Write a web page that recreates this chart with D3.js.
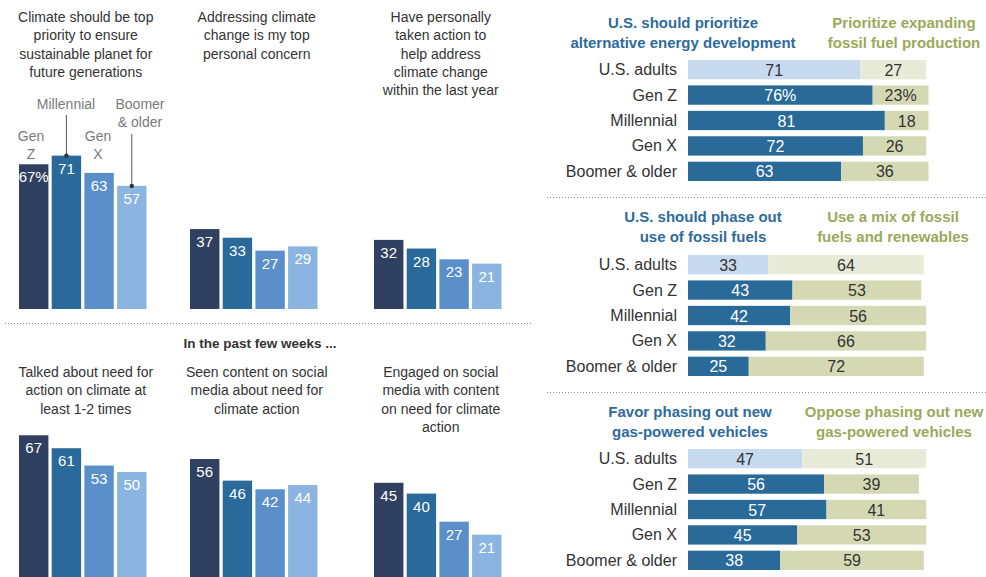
<!DOCTYPE html>
<html>
<head>
<meta charset="utf-8">
<script src="https://cdn.jsdelivr.net/npm/d3@7"></script>
<style>
  body { margin: 0; background: #fff; }
  svg { display: block; font-family: "Liberation Sans", Arial, sans-serif; }
</style>
</head>
<body>
<div id="chart"></div>
<script>
// generations for the column charts
const gens = ["Gen Z", "Millennial", "Gen X", "Boomer & older"];

// column chart titles + values (Gen Z, Millennial, Gen X, Boomer)
const topTitles = [
  ["Climate should be top", "priority to ensure", "sustainable planet for", "future generations"],
  ["Addressing climate", "change is my top", "personal concern"],
  ["Have personally", "taken action to", "help address", "climate change", "within the last year"]
];
const topPriority = [67, 71, 63, 57];
const topConcern = [37, 33, 27, 29];
const tookAction = [32, 28, 23, 21];

const bottomTitles = [
  ["Talked about need for", "action on climate at", "least 1-2 times"],
  ["Seen content on social", "media about need for", "climate action"],
  ["Engaged on social", "media with content", "on need for climate", "action"]
];
const talked = [67, 61, 53, 50];
const seenContent = [56, 46, 42, 44];
const engaged = [45, 40, 27, 21];

// stacked bar charts on the right
const rows = ["U.S. adults", "Gen Z", "Millennial", "Gen X", "Boomer & older"];
const altEnergy = [71, 76, 81, 72, 63];
const fossilExpand = [27, 23, 18, 26, 36];
const phaseOut = [33, 43, 42, 32, 25];
const fossilMix = [64, 53, 56, 66, 72];
const favorPhase = [47, 56, 57, 45, 38];
const opposePhase = [51, 39, 41, 53, 59];

const headersBlue = [
  ["U.S. should prioritize", "alternative energy development"],
  ["U.S. should phase out", "use of fossil fuels"],
  ["Favor phasing out new", "gas-powered vehicles"]
];
const headersGreen = [
  ["Prioritize expanding", "fossil fuel production"],
  ["Use a mix of fossil", "fuels and renewables"],
  ["Oppose phasing out new", "gas-powered vehicles"]
];

const width = 986, height = 577;
const genColors = ["#2f4060", "#2a6a9a", "#5b8fc9", "#8cb4e0"];
const textCol = "#333";

const svg = d3.select("#chart").append("svg")
  .attr("width", width)
  .attr("height", height);

// ---------- column charts ----------
const yLen = d3.scaleLinear().domain([0, 100]).range([0, 216]);

function columns(x0, baseY, vals, title, titleY, withPct) {
  const x = d3.scaleBand().domain(gens).range([x0, x0 + 127.5]).paddingInner(0.1);
  const g = svg.append("g");
  const cx = x0 + 127.5 / 2 + 3;

  g.append("text")
    .attr("text-anchor", "middle")
    .attr("font-size", 14)
    .attr("fill", textCol)
    .selectAll("tspan")
    .data(title)
    .join("tspan")
    .attr("x", cx)
    .attr("y", (d, i) => titleY + i * 18.3)
    .text(d => d);

  g.selectAll("rect")
    .data(vals)
    .join("rect")
    .attr("x", (d, i) => x(gens[i]))
    .attr("y", d => baseY - yLen(d))
    .attr("width", x.bandwidth())
    .attr("height", d => yLen(d))
    .attr("fill", (d, i) => genColors[i]);

  g.selectAll("text.val")
    .data(vals)
    .join("text")
    .attr("class", "val")
    .attr("x", (d, i) => x(gens[i]) + x.bandwidth() / 2)
    .attr("y", d => baseY - yLen(d) + 18)
    .attr("text-anchor", "middle")
    .attr("font-size", 15)
    .attr("fill", "#fff")
    .text((d, i) => (withPct && i === 0) ? d + "%" : d);

  return x;
}

const xFirst = columns(19, 309, topPriority, topTitles[0], 22, true);
columns(190, 309, topConcern, topTitles[1], 22, false);
columns(374, 309, tookAction, topTitles[2], 22, false);

columns(19, 580, talked, bottomTitles[0], 377, false);
columns(190, 580, seenContent, bottomTitles[1], 377, false);
columns(374, 580, engaged, bottomTitles[2], 377, false);

// generation labels on the first chart
const genLab = svg.append("g")
  .attr("font-size", 14)
  .attr("fill", "#7a7a7a")
  .attr("text-anchor", "middle");
const labelSpec = [
  { lines: ["Gen", "Z"], x: 31, y: 141 },
  { lines: ["Millennial"], x: 66, y: 109, lineTop: 115 },
  { lines: ["Gen", "X"], x: 98, y: 141 },
  { lines: ["Boomer", "& older"], x: 140, y: 109, lineTop: 134 }
];
labelSpec.forEach((s, i) => {
  genLab.append("text")
    .selectAll("tspan")
    .data(s.lines)
    .join("tspan")
    .attr("x", s.x)
    .attr("y", (d, j) => s.y + j * 18.3)
    .text(d => d);
  if (s.lineTop) {
    const bx = xFirst(gens[i]) + xFirst.bandwidth() / 2;
    const by = 309 - yLen(topPriority[i]);
    svg.append("line")
      .attr("x1", bx).attr("x2", bx)
      .attr("y1", s.lineTop).attr("y2", by)
      .attr("stroke", "#555").attr("stroke-width", 1);
    svg.append("circle")
      .attr("cx", bx).attr("cy", by).attr("r", 2.2)
      .attr("fill", "#333");
  }
});

// separator + subheading
svg.append("line")
  .attr("x1", 5).attr("x2", 533)
  .attr("y1", 323.5).attr("y2", 323.5)
  .attr("stroke", "#888").attr("stroke-dasharray", "1,2");

svg.append("text")
  .attr("x", 260).attr("y", 348)
  .attr("text-anchor", "middle")
  .attr("font-size", 13.5)
  .attr("font-weight", "bold")
  .attr("fill", textCol)
  .text("In the past few weeks ...");

// ---------- stacked bars on right ----------
const xs = d3.scaleLinear().domain([0, 100]).range([688, 931]);

function stacked(top, blue, green, hBlue, hGreen, hY, blueCx, greenCx, pctRow) {
  const y = d3.scaleBand().domain(rows).range([top, top + 121]).paddingInner(0.24);
  const g = svg.append("g");

  g.append("text")
    .attr("text-anchor", "middle")
    .attr("font-size", 15)
    .attr("font-weight", "bold")
    .attr("fill", "#2e6b9c")
    .selectAll("tspan")
    .data(hBlue)
    .join("tspan")
    .attr("x", blueCx)
    .attr("y", (d, i) => hY + i * 20)
    .text(d => d);

  g.append("text")
    .attr("text-anchor", "middle")
    .attr("font-size", 15)
    .attr("font-weight", "bold")
    .attr("fill", "#9aa95a")
    .selectAll("tspan")
    .data(hGreen)
    .join("tspan")
    .attr("x", greenCx)
    .attr("y", (d, i) => hY + i * 20)
    .text(d => d);

  g.selectAll("text.row")
    .data(rows)
    .join("text")
    .attr("class", "row")
    .attr("x", 677)
    .attr("y", d => y(d) + y.bandwidth() / 2 + 5.5)
    .attr("text-anchor", "end")
    .attr("font-size", 16)
    .attr("fill", textCol)
    .text(d => d);

  const segs = [];
  rows.forEach((r, i) => {
    const adults = i === 0;
    const pct = i === pctRow;
    segs.push({ r, x0: 0, x1: blue[i], v: blue[i], fill: adults ? "#c6d9ee" : "#2a6a99", tc: adults ? textCol : "#fff", pct });
    segs.push({ r, x0: blue[i], x1: blue[i] + green[i], v: green[i], fill: adults ? "#e9ebd9" : "#d5d9b3", tc: textCol, pct });
  });

  g.selectAll("rect")
    .data(segs)
    .join("rect")
    .attr("x", d => xs(d.x0))
    .attr("y", d => y(d.r))
    .attr("width", d => xs(d.x1) - xs(d.x0))
    .attr("height", y.bandwidth())
    .attr("fill", d => d.fill);

  g.selectAll("text.v")
    .data(segs)
    .join("text")
    .attr("class", "v")
    .attr("x", d => (xs(d.x0) + xs(d.x1)) / 2)
    .attr("y", d => y(d.r) + y.bandwidth() / 2 + 6)
    .attr("text-anchor", "middle")
    .attr("font-size", 16)
    .attr("fill", d => d.tc)
    .text(d => d.pct ? d.v + "%" : d.v);
}

stacked(60, altEnergy, fossilExpand, headersBlue[0], headersGreen[0], 28, 683, 904, 1);
stacked(255, phaseOut, fossilMix, headersBlue[1], headersGreen[1], 222, 703, 893, -1);
stacked(449, favorPhase, opposePhase, headersBlue[2], headersGreen[2], 417, 690, 894, -1);

[197.5, 392.5].forEach(yy => {
  svg.append("line")
    .attr("x1", 547).attr("x2", 986)
    .attr("y1", yy).attr("y2", yy)
    .attr("stroke", "#888").attr("stroke-dasharray", "1,2");
});
</script>
</body>
</html>
